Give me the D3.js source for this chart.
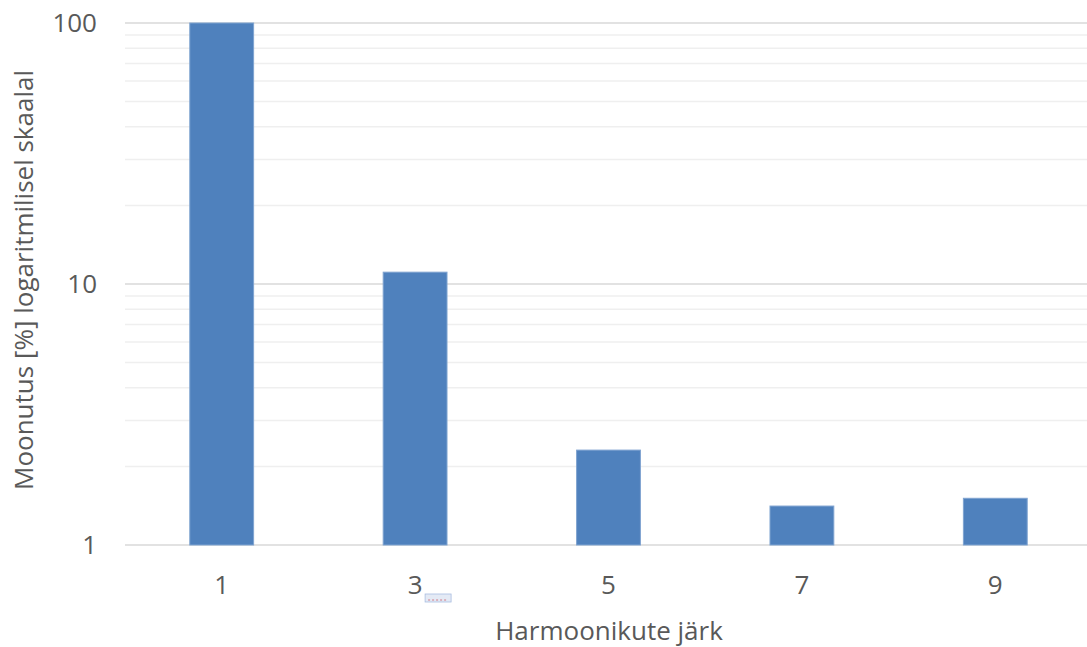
<!DOCTYPE html>
<html>
<head>
<meta charset="utf-8">
<script src="https://cdn.jsdelivr.net/npm/d3@7"></script>
<style>
  body { margin: 0; background: #fff; }
  svg { display: block; font-family: "Open Sans", Lato, sans-serif; }
</style>
</head>
<body>
<svg id="chart" width="1087" height="647"></svg>
<script>
// harmonic orders and distortion (%)
const orders = ['1', '3', '5', '7', '9'];
const distortion = [100, 11.1, 2.31, 1.41, 1.51];
const yTicks = [1, 10, 100];

const width = 1087, height = 647;
const margin = { top: 23, right: -5, bottom: 102, left: 125 };
const fontSize = 26;

const svg = d3.select('#chart');

const x = d3.scaleBand()
  .domain(orders)
  .range([margin.left, width - margin.right])
  .paddingInner(0.67)
  .paddingOuter(0.335);

const y = d3.scaleLog()
  .domain([1, 100])
  .range([height - margin.bottom, margin.top]);

// minor gridlines (2..9 in each decade)
const minor = [];
for (let d = 1; d < 100; d *= 10) {
  for (let k = 2; k <= 9; k++) minor.push(d * k);
}
svg.append('g')
  .selectAll('line')
  .data(minor)
  .join('line')
    .attr('x1', margin.left).attr('x2', width)
    .attr('y1', d => y(d)).attr('y2', d => y(d))
    .attr('stroke', '#efefef')
    .attr('stroke-width', 1.5);

// major gridlines
svg.append('g')
  .selectAll('line')
  .data(yTicks)
  .join('line')
    .attr('x1', margin.left).attr('x2', width)
    .attr('y1', d => y(d)).attr('y2', d => y(d))
    .attr('stroke', '#d9d9d9')
    .attr('stroke-width', 1.5);

// bars
svg.append('g')
  .selectAll('rect')
  .data(orders)
  .join('rect')
    .attr('x', d => x(d))
    .attr('width', x.bandwidth())
    .attr('y', (d, i) => y(distortion[i]))
    .attr('height', (d, i) => y(1) - y(distortion[i]))
    .attr('fill', '#4f81bd')
    .attr('stroke', '#7fa3d0')
    .attr('stroke-width', 1);

// y tick labels
svg.append('g')
  .selectAll('text')
  .data(yTicks)
  .join('text')
    .attr('x', 97)
    .attr('y', d => y(d))
    .attr('dy', '0.35em')
    .attr('text-anchor', 'end')
    .attr('font-size', fontSize)
    .attr('fill', '#595959')
    .text(d => d);

// x tick labels
svg.append('g')
  .selectAll('text')
  .data(orders)
  .join('text')
    .attr('x', d => x(d) + x.bandwidth() / 2)
    .attr('y', 585)
    .attr('dy', '0.35em')
    .attr('text-anchor', 'middle')
    .attr('font-size', fontSize)
    .attr('fill', '#595959')
    .text(d => d);

// small paste-icon artefact under the "3" label
const icon = svg.append('g')
  .attr('transform', `translate(${x('3') + x.bandwidth() / 2 + 10},594)`);
icon.append('rect')
  .attr('width', 26).attr('height', 8)
  .attr('fill', '#e4eaf5').attr('stroke', '#a9bde0').attr('stroke-width', 0.8);
icon.append('line')
  .attr('x1', 3).attr('x2', 23).attr('y1', 6).attr('y2', 6)
  .attr('stroke', '#d07a86').attr('stroke-width', 1).attr('stroke-dasharray', '2,2');

// axis titles
svg.append('text')
  .attr('x', 609)
  .attr('y', 631)
  .attr('dy', '0.35em')
  .attr('text-anchor', 'middle')
  .attr('font-size', fontSize)
  .attr('fill', '#595959')
  .text('Harmoonikute järk');

svg.append('text')
  .attr('transform', 'translate(24,280) rotate(-90)')
  .attr('dy', '0.35em')
  .attr('text-anchor', 'middle')
  .attr('font-size', fontSize)
  .attr('fill', '#595959')
  .text('Moonutus [%] logaritmilisel skaalal');
</script>
</body>
</html>
